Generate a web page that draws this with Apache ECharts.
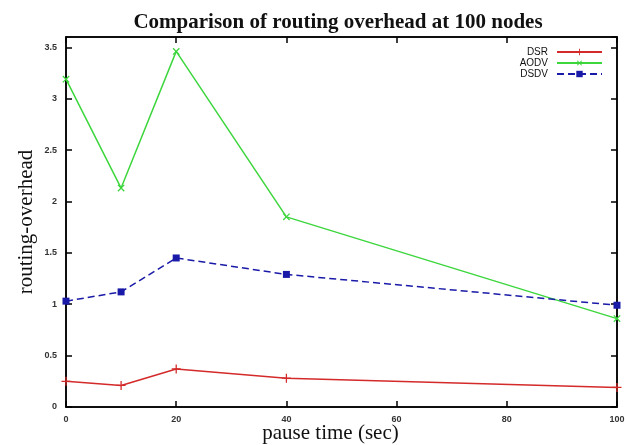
<!DOCTYPE html>
<html>
<head>
<meta charset="utf-8">
<script src="https://cdn.jsdelivr.net/npm/echarts@6/dist/echarts.min.js"></script>
<style>html,body{margin:0;padding:0;background:#fff}#c{width:625px;height:445px}</style>
</head>
<body>
<div id="c"></div>
<script>
var pauseTimes = [0, 10, 20, 40, 100];
var dsr  = [0.25, 0.21, 0.37, 0.28, 0.19];
var aodv = [3.19, 2.13, 3.46, 1.85, 0.86];
var dsdv = [1.03, 1.12, 1.45, 1.29, 0.99];
var xTicks = [0, 20, 40, 60, 80, 100];
var yTicks = [0, 0.5, 1, 1.5, 2, 2.5, 3, 3.5];

function pairs(v){ return pauseTimes.map(function(x,i){ return [x, v[i]]; }); }

var plus = 'path://M4.3,0H5.7V4.3H10V5.7H5.7V10H4.3V5.7H0V4.3H4.3Z';
var chart = echarts.init(document.getElementById('c'));
var labelStyle = {fontFamily:'Liberation Sans', fontSize:9, fontWeight:'bold', color:'#333'};
function tick(){ return {show:true, inside:true, length:6, lineStyle:{color:'#000', width:1.5}}; }
function line(){ return {show:true, onZero:false, lineStyle:{color:'#000', width:1.5}}; }
chart.setOption({
  animation:false,
  title:{text:'Comparison of routing overhead at 100 nodes', left:333, top:7, textAlign:'center',
    textStyle:{fontFamily:'Liberation Serif', fontSize:21, fontWeight:'bold', color:'#111'}},
  legend:{orient:'vertical', right:17, top:42, align:'right', itemGap:1, itemWidth:45, itemHeight:8,
    textStyle:{fontFamily:'Liberation Sans', fontSize:10, color:'#111', lineHeight:10, padding:[0,4,0,0]},
    data:['DSR','AODV','DSDV']},
  grid:{left:66, right:8, top:37, bottom:38, show:true, borderColor:'#000', borderWidth:1.5,
    backgroundColor:'#fff', containLabel:false, outerBoundsMode:'none'},
  xAxis:[{type:'value', min:0, max:100, interval:20,
      name:'pause time (sec)', nameLocation:'middle', nameGap:16, nameMoveOverlap:false,
      nameTextStyle:{fontFamily:'Liberation Serif', fontSize:21, color:'#111', padding:[0,22,0,0]},
      axisLine:line(), axisTick:tick(),
      axisLabel:Object.assign({margin:8, formatter:function(v){return xTicks.indexOf(v)>=0?String(v):'';}}, labelStyle),
      splitLine:{show:false}},
    {type:'value', position:'top', min:0, max:100, interval:20,
      axisLine:line(), axisTick:tick(),
      axisLabel:{show:false}, splitLine:{show:false}}],
  yAxis:[{type:'value', min:0, max:3.6, interval:0.5,
      name:'routing-overhead', nameLocation:'middle', nameGap:29, nameRotate:90, nameMoveOverlap:false,
      nameTextStyle:{fontFamily:'Liberation Serif', fontSize:21, color:'#111'},
      axisLine:line(), axisTick:tick(),
      axisLabel:Object.assign({margin:9, showMaxLabel:false, formatter:function(v){return yTicks.indexOf(v)>=0?String(v):'';}}, labelStyle),
      splitLine:{show:false}},
    {type:'value', position:'right', min:0, max:3.6, interval:0.5,
      axisLine:line(), axisTick:tick(),
      axisLabel:{show:false}, splitLine:{show:false}}],
  series:[
    {name:'DSR', type:'line', data:pairs(dsr), symbol:plus, symbolSize:9, showAllSymbol:true,
      lineStyle:{color:'#d42a2a', width:1.5}, itemStyle:{color:'#d42a2a'}},
    {name:'AODV', type:'line', data:pairs(aodv), symbol:plus, symbolRotate:45, symbolSize:9,
      lineStyle:{color:'#3dd63d', width:1.5}, itemStyle:{color:'#3dd63d'}},
    {name:'DSDV', type:'line', data:pairs(dsdv), symbol:'rect', symbolSize:7,
      lineStyle:{color:'#1a1aa8', width:1.5, type:[7,4]}, itemStyle:{color:'#1a1aa8'}}
  ]
});
</script>
</body>
</html>
